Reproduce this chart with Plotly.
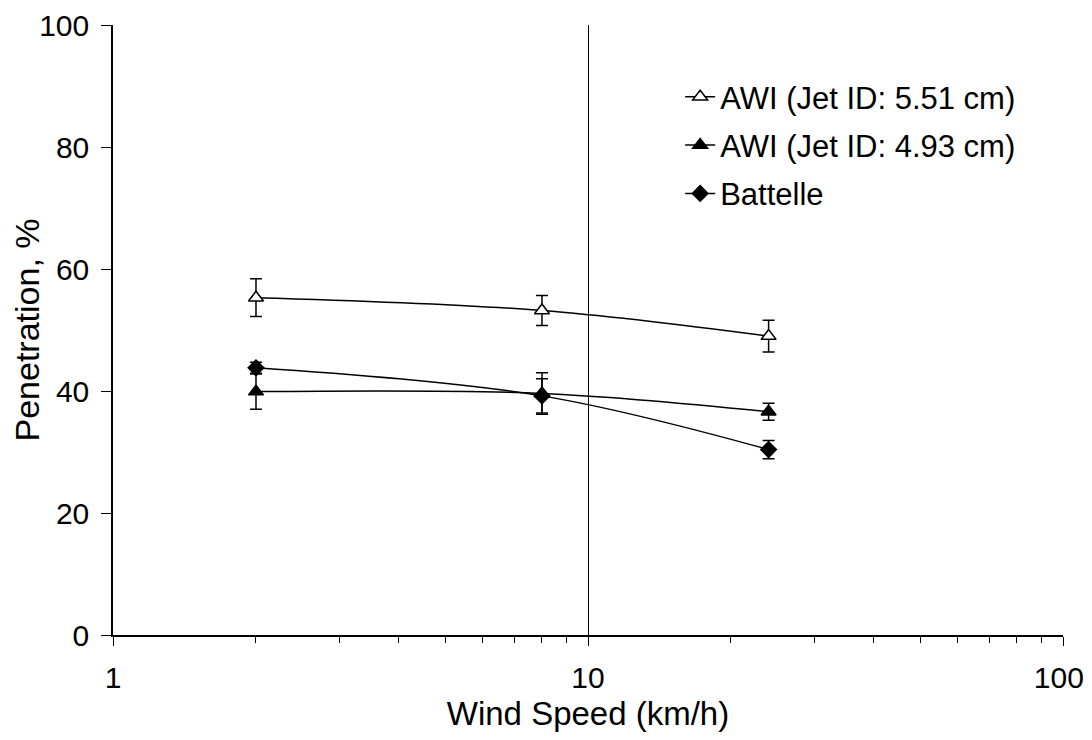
import plotly.graph_objects as go

wind = [2, 8, 24]
awi551 = [55.3, 53.2, 49.0]
awi551_err = [3.1, 2.45, 2.6]
awi493 = [39.9, 39.6, 36.6]
awi493_err = [2.9, 3.4, 1.4]
battelle = [43.8, 39.2, 30.4]
battelle_err = [0.9, 2.8, 1.5]

x_tickvals = [1, 10, 100]
x_ticktext = ["1", "10", "100\u00a0"]

names = ["AWI (Jet ID: 5.51 cm)", "AWI (Jet ID: 4.93 cm)", "Battelle"]

fig = go.Figure()
series = [
    (names[0], awi551, awi551_err, "triangle-up", "white", 13),
    (names[1], awi493, awi493_err, "triangle-up", "black", 13),
    (names[2], battelle, battelle_err, "diamond", "black", 12),
]
for i, (name, ys, errs, sym, fill, sz) in enumerate(series):
    fig.add_trace(go.Scatter(
        x=wind, y=ys, name=name, mode="lines+markers", legendgroup=f"g{i}",
        line=dict(color="black", width=1.5, shape="spline"),
        marker=dict(symbol=sym, size=sz, color=fill, line=dict(color="black", width=1.5)),
        error_y=dict(type="data", array=errs, visible=True, color="black", thickness=1.5, width=6),
    ))

font = "Liberation Sans, Arial, sans-serif"
fig.update_layout(
    width=1076, height=724,
    margin=dict(l=105, r=21, t=17, b=97),
    plot_bgcolor="white", paper_bgcolor="white",
    font=dict(family=font, size=30, color="black"),
    showlegend=True,
    legend=dict(x=0.597, y=0.926, xanchor="left", yanchor="top",
                font=dict(size=31), bgcolor="rgba(0,0,0,0)",
                tracegroupgap=5, itemwidth=30),
    xaxis=dict(type="log", range=[0, 2], tickmode="array", tickvals=x_tickvals, ticktext=x_ticktext,
               showgrid=True, gridcolor="black", gridwidth=1,
               showline=True, linecolor="black", linewidth=1.5, automargin=False,
               ticks="outside", ticklen=9, tickcolor="black", ticklabelstandoff=6,
               ticklabeloverflow="allow",
               minor=dict(ticks="outside", ticklen=6, dtick="D1", tickcolor="black", showgrid=False),
               title=dict(text="Wind Speed (km/h)", font=dict(size=33), standoff=13),
               zeroline=False, tickfont=dict(size=30)),
    yaxis=dict(range=[0, 100], dtick=20, showgrid=False, showline=True, linecolor="black", linewidth=1.5,
               ticks="outside", ticklen=10, tickcolor="black", automargin=False, ticklabelstandoff=6,
               title=dict(text="Penetration, %", font=dict(size=34), standoff=0),
               zeroline=False, tickfont=dict(size=30)),
)

fig.write_html("out.html")
